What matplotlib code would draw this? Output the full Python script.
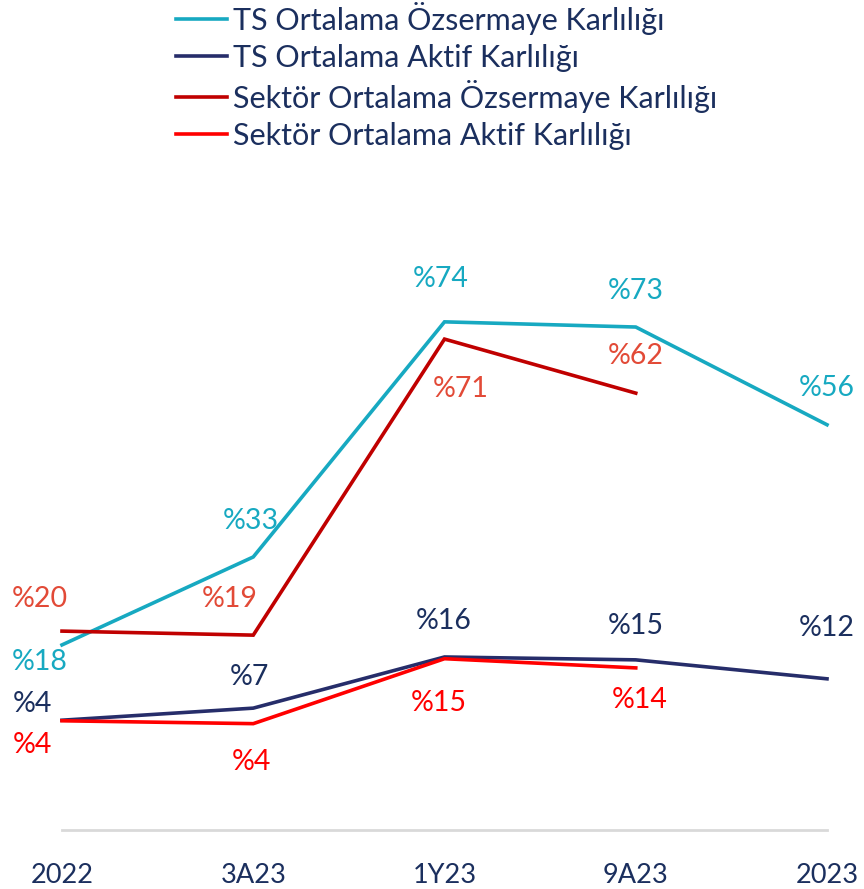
import matplotlib
matplotlib.use('Agg')
import matplotlib.pyplot as plt

plt.rcParams['font.family'] = ['Lato', 'DejaVu Sans']

categories = ['2022', '3A23', '1Y23', '9A23', '2023']

ts_ozsermaye = [18.0, 33.3, 74.2, 73.3, 56.3]
ts_aktif = [4.9, 7.0, 15.9, 15.4, 12.1]
sektor_ozsermaye = [20.4, 19.7, 71.2, 61.8]
sektor_aktif = [4.8, 4.3, 15.6, 14.0]

ts_ozsermaye_labels = ['%18', '%33', '%74', '%73', '%56']
ts_aktif_labels = ['%4', '%7', '%16', '%15', '%12']
sektor_ozsermaye_labels = ['%20', '%19', '%71', '%62']
sektor_aktif_labels = ['%4', '%4', '%15', '%14']

series_names = ['TS Ortalama Özsermaye Karlılığı', 'TS Ortalama Aktif Karlılığı',
                'Sektör Ortalama Özsermaye Karlılığı', 'Sektör Ortalama Aktif Karlılığı']

W, H = 864, 889
fig = plt.figure(figsize=(W / 100, H / 100), dpi=100)
fig.patch.set_facecolor('white')

# plot area: category 2022 at x=62px, 2023 at x=827px; axis line at y=830px
ax = fig.add_axes([62 / W, (H - 830) / H, (827 - 62) / W, (830 - 250) / H])
ax.set_xlim(0, len(categories) - 1)
ax.set_ylim(-14.2, 86.7)

x = list(range(len(categories)))
styles = [
    (ts_ozsermaye, '#17a9c1', '#17a9c1', ts_ozsermaye_labels,
     [(-22, -17), (-2, 36), (-4, 43), (0, 36), (0, 37)]),
    (ts_aktif, '#262d6a', '#1b2f5e', ts_aktif_labels,
     [(-30, 16), (-4, 31), (-1, 36), (0, 34), (0, 51)]),
    (sektor_ozsermaye, '#c00000', '#e24a37', sektor_ozsermaye_labels,
     [(-22, 32), (-24, 36), (16, -50), (0, 37)]),
    (sektor_aktif, '#ff0000', '#ff0000', sektor_aktif_labels,
     [(-30, -24), (-2, -38), (-6, -44), (4, -32)]),
]

handles = []
for (vals, lc, tc, labels, offs), name in zip(styles, series_names):
    xs = x[:len(vals)]
    ln, = ax.plot(xs, vals, color=lc, lw=2.6, solid_joinstyle='miter', clip_on=False, label=name)
    handles.append(ln)
    for xi, v, lab, (dx, dy) in zip(xs, vals, labels, offs):
        ax.annotate(lab, (xi, v), xytext=(dx, dy), textcoords='offset pixels',
                    ha='center', va='center', fontsize=20.5, color=tc, annotation_clip=False)

for s in ['top', 'right', 'left']:
    ax.spines[s].set_visible(False)
ax.spines['bottom'].set_color('#d9d9d9')
ax.spines['bottom'].set_linewidth(2)
ax.set_yticks([])
ax.set_xticks(x)
ax.set_xticklabels(categories, fontsize=19.5, color='#1b2f5e')
ax.tick_params(axis='x', length=0, pad=24)
ax.patch.set_alpha(0)

fig.legend(handles=handles, loc='upper left', bbox_to_anchor=(164 / W, 1.0115),
           frameon=False, fontsize=22, labelcolor='#1b2f5e',
           handlelength=1.65, handletextpad=0.2, labelspacing=0.28, borderaxespad=0)

fig.savefig('out.png', dpi=100, facecolor='white')
